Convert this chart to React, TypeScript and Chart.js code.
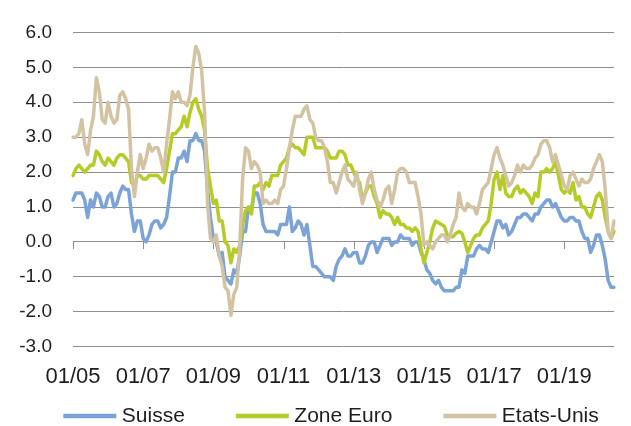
import { useEffect, useRef } from "react";
import { Chart, registerables } from "chart.js";

Chart.register(...registerables);

const FIRST_YEAR = 2005;
const MONTH_COUNT = 186; // 01/2005 .. 06/2020

const categories: string[] = Array.from({ length: MONTH_COUNT }, (_, i) => {
  const m = (i % 12) + 1;
  const y = (FIRST_YEAR + Math.floor(i / 12)) % 100;
  return `${String(m).padStart(2, "0")}/${String(y).padStart(2, "0")}`;
});

const tickLabels = ["01/05", "01/07", "01/09", "01/11", "01/13", "01/15", "01/17", "01/19"];

const yTicks = [-3, -2, -1, 0, 1, 2, 3, 4, 5, 6];

const suisse = [
  1.2, 1.4, 1.4, 1.4, 1.2, 0.7, 1.2, 1.0, 1.4, 1.3, 1.0, 1.0,
  1.3, 1.4, 1.0, 1.1, 1.4, 1.6, 1.5, 1.5, 0.8, 0.3, 0.6, 0.6,
  0.1, 0.0, 0.2, 0.5, 0.6, 0.6, 0.4, 0.5, 0.7, 1.3, 2.0, 2.0,
  2.4, 2.4, 2.6, 2.3, 2.9, 2.9, 3.1, 2.9, 2.9, 2.6, 1.5, 0.7,
  0.1, 0.0, -0.4, -0.3, -1.0, -1.1, -1.2, -0.8, -0.9, -0.4, 0.3, 0.3,
  1.0, 0.9, 1.4, 1.4, 1.1, 0.5, 0.3, 0.3, 0.3, 0.3, 0.2, 0.5,
  0.5, 0.5, 1.0, 0.3, 0.4, 0.6, 0.5, 0.2, 0.5, -0.1, -0.7, -0.7,
  -0.8, -0.9, -1.0, -1.0, -1.0, -1.1, -0.7, -0.5, -0.4, -0.2, -0.4, -0.4,
  -0.3, -0.3, -0.6, -0.6, -0.4, -0.1, 0.0, 0.0, -0.3, -0.1, 0.1, 0.1,
  0.1, -0.1, 0.0, 0.0, 0.2, 0.1, 0.1, 0.1, -0.1, 0.0, 0.0, -0.3,
  -0.5, -0.8, -0.9, -1.1, -1.2, -1.1, -1.3, -1.4, -1.4, -1.4, -1.4, -1.3,
  -1.3, -0.8, -0.9, -0.4, -0.4, -0.4, -0.2, -0.1, -0.2, -0.2, -0.3, 0.0,
  0.3, 0.6, 0.6, 0.4, 0.5, 0.2, 0.3, 0.5, 0.7, 0.7, 0.8, 0.8,
  0.7, 0.6, 0.8, 0.8, 1.0, 1.1, 1.2, 1.2, 1.0, 1.1, 0.9, 0.7,
  0.6, 0.6, 0.7, 0.7, 0.6, 0.6, 0.3, 0.1, 0.1, -0.3, -0.1, 0.2,
  0.2, -0.1, -0.5, -1.1, -1.3, -1.3,
];

const zoneEuro = [
  1.9, 2.1, 2.2, 2.1, 2.0, 2.1, 2.2, 2.2, 2.6, 2.5, 2.3, 2.2,
  2.4, 2.3, 2.2, 2.4, 2.5, 2.5, 2.4, 2.3, 1.7, 1.6, 1.9, 1.9,
  1.8, 1.8, 1.9, 1.9, 1.9, 1.9, 1.8, 1.7, 2.1, 2.6, 3.1, 3.1,
  3.2, 3.3, 3.6, 3.3, 3.7, 4.0, 4.1, 3.8, 3.6, 3.2, 2.1, 1.6,
  1.1, 1.2, 0.6, 0.6, 0.0, -0.1, -0.6, -0.2, -0.3, -0.1, 0.5, 0.9,
  1.0, 0.8, 1.6, 1.6, 1.7, 1.5, 1.7, 1.6, 1.9, 1.9, 1.9, 2.2,
  2.3, 2.4, 2.7, 2.8, 2.7, 2.7, 2.6, 2.5, 3.0, 3.0, 3.0, 2.7,
  2.7, 2.7, 2.7, 2.6, 2.4, 2.4, 2.4, 2.6, 2.6, 2.5, 2.2, 2.2,
  2.0, 1.8, 1.7, 1.2, 1.4, 1.6, 1.6, 1.3, 1.1, 0.7, 0.9, 0.8,
  0.8, 0.7, 0.5, 0.7, 0.5, 0.5, 0.4, 0.4, 0.3, 0.4, 0.3, -0.2,
  -0.6, -0.3, 0.0, 0.4, 0.6, 0.55, 0.5, 0.45, 0.2, 0.15, 0.15, 0.25,
  0.3, 0.25, 0.0, -0.3, -0.1, 0.1, 0.2, 0.2, 0.4, 0.5, 0.6, 1.1,
  1.8, 2.0, 1.5, 1.9, 1.4, 1.3, 1.3, 1.5, 1.6, 1.4, 1.5, 1.4,
  1.3, 1.1, 1.4, 1.3, 2.0, 2.0, 2.1, 2.0, 2.1, 2.3, 1.9, 1.5,
  1.4, 1.5, 1.4, 1.7, 1.2, 1.3, 1.0, 1.0, 0.8, 0.7, 1.0, 1.3,
  1.4, 1.2, 0.7, 0.3, 0.1, 0.3,
];

const etatsUnis = [
  3.0, 3.0, 3.1, 3.5, 2.8, 2.5, 3.2, 3.6, 4.7, 4.3, 3.5, 3.4,
  4.0, 3.6, 3.4, 3.5, 4.2, 4.3, 4.1, 3.8, 2.1, 1.3, 2.0, 2.5,
  2.1, 2.4, 2.8, 2.6, 2.7, 2.7, 2.4, 2.0, 2.8, 3.5, 4.3, 4.1,
  4.3, 4.0, 4.0, 3.9, 4.2, 5.0, 5.6, 5.4, 4.9, 3.7, 1.1, 0.1,
  0.0, 0.2, -0.4, -0.7, -1.3, -1.4, -2.1, -1.5, -1.3, -0.2, 1.8, 2.7,
  2.6, 2.1, 2.3, 2.2, 2.0, 1.1, 1.2, 1.1, 1.1, 1.2, 1.1, 1.5,
  1.6, 2.1, 2.7, 3.2, 3.6, 3.6, 3.6, 3.8, 3.9, 3.5, 3.4, 3.0,
  2.9, 2.9, 2.7, 2.3, 1.7, 1.7, 1.4, 1.7, 2.0, 2.2, 1.8, 1.7,
  1.6, 2.0, 1.5, 1.1, 1.4, 1.8, 2.0, 1.5, 1.2, 1.0, 1.2, 1.5,
  1.6, 1.1, 1.5, 2.0, 2.1, 2.1, 2.0, 1.7, 1.7, 1.7, 1.3, 0.8,
  -0.1, 0.0, -0.1, -0.2, 0.0, 0.1, 0.2, 0.2, 0.0, 0.2, 0.5, 0.7,
  1.4, 1.0, 0.9, 1.1, 1.0, 1.0, 0.8, 1.1, 1.5, 1.6, 1.7, 2.1,
  2.5, 2.7, 2.4, 2.2, 1.9, 1.6, 1.7, 1.9, 2.2, 2.0, 2.2, 2.1,
  2.1, 2.2, 2.4, 2.5, 2.8, 2.9, 2.9, 2.7, 2.3, 2.5, 2.2, 1.9,
  1.6, 1.5, 1.9, 2.0, 1.8, 1.6, 1.8, 1.7, 1.7, 1.8, 2.1, 2.3,
  2.5, 2.3, 1.5, 0.3, 0.1, 0.6,
];

const COLORS = {
  suisse: "#7ba3d7",
  zoneEuro: "#b5cc26",
  etatsUnis: "#d3c3a2",
  grid: "#8f8f8f",
  text: "#1e1e1e",
};

function legendLine(color: string): HTMLCanvasElement {
  const c = document.createElement("canvas");
  c.width = 92;
  c.height = 8;
  const g = c.getContext("2d")!;
  g.strokeStyle = color;
  g.lineWidth = 4.5;
  g.beginPath();
  g.moveTo(38, 4);
  g.lineTo(91, 4);
  g.stroke();
  return c;
}

const zeroTicks = {
  id: "zeroTicks",
  beforeDatasetsDraw(chart: any) {
    const { ctx, scales } = chart;
    const x = scales.x;
    const y = scales.y;
    const y0 = Math.round(y.getPixelForValue(0));
    ctx.save();
    ctx.strokeStyle = COLORS.grid;
    ctx.lineWidth = 1;
    categories.forEach((c, i) => {
      if (tickLabels.includes(c)) {
        const px = Math.round(x.getPixelForValue(i)) + 0.5;
        ctx.beginPath();
        ctx.moveTo(px, y0);
        ctx.lineTo(px, y0 + 7);
        ctx.stroke();
      }
    });
    ctx.restore();
  },
};

export default function App() {
  const ref = useRef<HTMLCanvasElement | null>(null);

  useEffect(() => {
    if (!ref.current) return;
    const mk = (label: string, data: number[], color: string, order: number) => ({
      label,
      data,
      borderColor: color,
      backgroundColor: color,
      borderWidth: 3.5,
      pointRadius: 0,
      pointHoverRadius: 0,
      pointStyle: legendLine(color),
      tension: 0,
      borderJoinStyle: "round" as const,
      borderCapStyle: "round" as const,
      order,
    });
    const chart = new Chart(ref.current, {
      type: "line",
      data: {
        labels: categories,
        datasets: [
          mk("Suisse", suisse, COLORS.suisse, 3),
          mk("Zone Euro", zoneEuro, COLORS.zoneEuro, 2),
          mk("Etats-Unis", etatsUnis, COLORS.etatsUnis, 1),
        ],
      },
      options: {
        animation: false,
        responsive: false,
        maintainAspectRatio: false,
        events: [],
        layout: { padding: { left: 0, right: 1, top: 24, bottom: 0 } },
        plugins: {
          tooltip: { enabled: false },
          legend: {
            position: "bottom",
            maxHeight: 39.5,
            labels: {
              usePointStyle: true,
              pointStyleWidth: 80,
              padding: 19,
              color: COLORS.text,
              font: { family: "Liberation Sans", size: 21 },
              sort: (a: any, b: any) => a.datasetIndex - b.datasetIndex,
            },
          },
        },
        scales: {
          x: {
            type: "category",
            grid: { display: false, drawTicks: false },
            border: { display: false },
            ticks: {
              autoSkip: false,
              maxRotation: 0,
              minRotation: 0,
              padding: 17,
              color: COLORS.text,
              font: { family: "Liberation Sans", size: 22 },
              callback: (_v: any, i: number) =>
                tickLabels.includes(categories[i]) ? categories[i] : "",
            },
            afterFit: (s: any) => {
              s.height = 39.8;
            },
          },
          y: {
            min: yTicks[0],
            max: yTicks[yTicks.length - 1],
            afterBuildTicks: (s: any) => {
              s.ticks = yTicks.map((v) => ({ value: v }));
            },
            grid: { color: COLORS.grid, lineWidth: 1, drawTicks: false },
            border: { display: false },
            ticks: {
              padding: 21,
              color: COLORS.text,
              font: { family: "Liberation Sans", size: 19 },
              callback: (v: any) => Number(v).toFixed(1),
            },
            afterFit: (s: any) => {
              s.width = 73;
            },
          },
        },
      },
      plugins: [zeroTicks],
    } as any);
    return () => chart.destroy();
  }, []);

  return (
    <div
      style={{
        position: "fixed",
        left: 0,
        top: 0,
        width: 631,
        height: 426,
        overflow: "hidden",
        background: "#ffffff",
      }}
    >
      <canvas ref={ref} width={631} height={426} style={{ width: 631, height: 426, display: "block" }} />
    </div>
  );
}
